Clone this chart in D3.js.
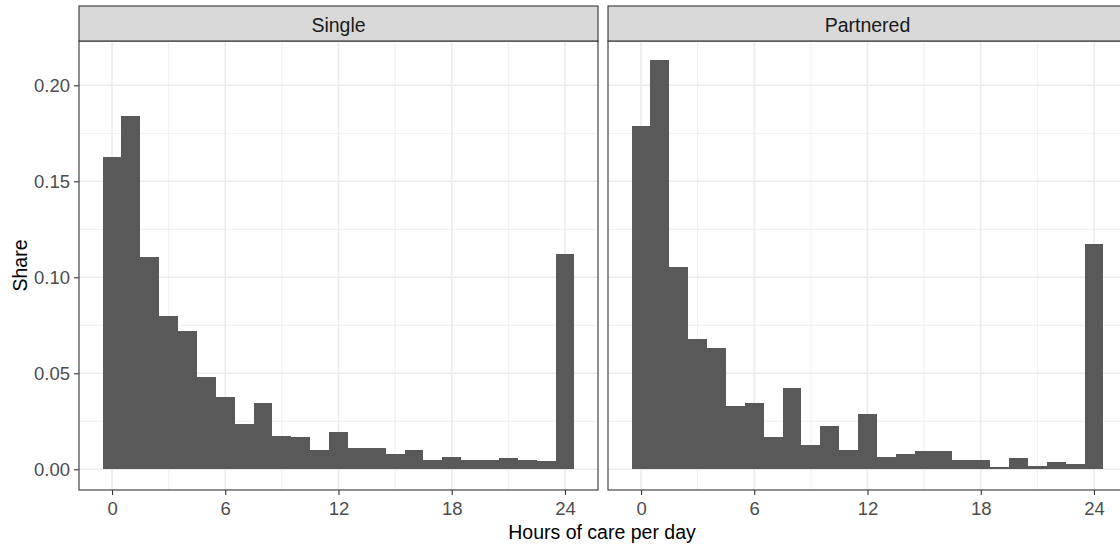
<!DOCTYPE html>
<html>
<head>
<meta charset="utf-8">
<script src="https://cdn.jsdelivr.net/npm/d3@7"></script>
<style>
  body { margin: 0; background: #fff; }
  svg { display: block; font-family: "Liberation Sans", Arial, sans-serif; }
</style>
</head>
<body>
<svg width="1120" height="550"></svg>
<script>
// data: share of people per hour-of-care bin
const hours = [0, 1, 2, 3, 4, 5, 6, 7, 8, 9, 10, 11, 12, 13, 14, 15, 16, 17, 18, 19, 20, 21, 22, 23, 24]
const singleShare = [0.1625, 0.184, 0.1106, 0.0799, 0.0719, 0.0479, 0.0375, 0.0234, 0.0347, 0.0175, 0.0167, 0.0100, 0.0193,
  0.0113, 0.0113, 0.0080, 0.0101, 0.0047, 0.0066, 0.0047, 0.0047, 0.0061, 0.0049, 0.0043, 0.1121]
const partneredShare = [0.179, 0.213, 0.1052, 0.0679, 0.0632, 0.0329, 0.0347, 0.0167, 0.0422, 0.0128, 0.0227, 0.0101, 0.0286,
  0.0066, 0.0081, 0.0094, 0.0094, 0.0047, 0.0047, 0.0014, 0.0061, 0.0019, 0.0040, 0.0029, 0.1173]
const panelNames = ['Single', 'Partnered']
const xTicks = [0, 6, 12, 18, 24]
const xMinor = [3, 9, 15, 21]
const yTicks = [0, 0.05, 0.10, 0.15, 0.20]
const yMinor = [0.025, 0.075, 0.125, 0.175]

const svg = d3.select('svg')

// layout (ggplot theme_bw look)
const panelW = 519
const panelTop = 41
const panelBottom = 490
const stripTop = 6
const panelLefts = [79, 608]

const x = d3.scaleLinear().domain([-1.75, 25.75]).range([0, panelW])
const y = d3.scaleLinear().domain([-0.0108, 0.2231]).range([panelBottom - panelTop, 0])

const seriesByPanel = [singleShare, partneredShare]

panelNames.forEach((name, i) => {
  const g = svg.append('g')
      .attr('transform', `translate(${panelLefts[i]}, ${panelTop})`)

  // minor grid
  g.selectAll('.vminor').data(xMinor).enter().append('line')
      .attr('x1', d => x(d)).attr('x2', d => x(d))
      .attr('y1', 0).attr('y2', y.range()[0])
      .attr('stroke', '#EBEBEB').attr('stroke-width', 0.8)
  g.selectAll('.hminor').data(yMinor).enter().append('line')
      .attr('y1', d => y(d)).attr('y2', d => y(d))
      .attr('x1', 0).attr('x2', panelW)
      .attr('stroke', '#EBEBEB').attr('stroke-width', 0.8)

  // major grid
  g.selectAll('.vmajor').data(xTicks).enter().append('line')
      .attr('x1', d => x(d)).attr('x2', d => x(d))
      .attr('y1', 0).attr('y2', y.range()[0])
      .attr('stroke', '#EBEBEB').attr('stroke-width', 1.5)
  g.selectAll('.hmajor').data(yTicks).enter().append('line')
      .attr('y1', d => y(d)).attr('y2', d => y(d))
      .attr('x1', 0).attr('x2', panelW)
      .attr('stroke', '#EBEBEB').attr('stroke-width', 1.5)

  // histogram bars
  const values = seriesByPanel[i]
  g.selectAll('.bar').data(hours).enter().append('rect')
      .attr('x', h => x(h - 0.5))
      .attr('width', h => x(h + 0.5) - x(h - 0.5))
      .attr('y', (h, j) => y(values[j]))
      .attr('height', (h, j) => y(0) - y(values[j]))
      .attr('fill', '#595959')
      .attr('shape-rendering', 'crispEdges')

  // panel border
  g.append('rect')
      .attr('width', panelW).attr('height', y.range()[0])
      .attr('fill', 'none').attr('stroke', '#333333').attr('stroke-width', 1.1)

  // x axis
  const xAxis = g.append('g')
      .attr('transform', `translate(0, ${y.range()[0]})`)
      .call(d3.axisBottom(x).tickValues(xTicks).tickSize(5).tickPadding(7).tickFormat(d3.format('d')))
  xAxis.select('.domain').remove()
  xAxis.selectAll('line').attr('stroke', '#333333').attr('stroke-width', 1.1)
  xAxis.selectAll('text').attr('fill', '#4D4D4D').style('font-size', '18.5px')

  // y axis only on the first panel
  if (i === 0) {
    const yAxis = g.append('g')
        .call(d3.axisLeft(y).tickValues(yTicks).tickSize(5).tickPadding(4).tickFormat(d3.format('.2f')))
    yAxis.select('.domain').remove()
    yAxis.selectAll('line').attr('stroke', '#333333').attr('stroke-width', 1.1)
    yAxis.selectAll('text').attr('fill', '#4D4D4D').style('font-size', '18.5px')
  }

  // strip
  svg.append('rect')
      .attr('x', panelLefts[i]).attr('y', stripTop)
      .attr('width', panelW).attr('height', panelTop - stripTop)
      .attr('fill', '#D9D9D9').attr('stroke', '#333333').attr('stroke-width', 1.1)
  svg.append('text')
      .attr('x', panelLefts[i] + panelW / 2).attr('y', 31.5)
      .attr('text-anchor', 'middle')
      .attr('fill', '#1A1A1A')
      .style('font-size', '19.5px')
      .text(name)
})

// axis titles
svg.append('text')
    .attr('x', 602).attr('y', 539)
    .attr('text-anchor', 'middle')
    .style('font-size', '19.5px')
    .text('Hours of care per day')

svg.append('text')
    .attr('transform', `translate(27, ${(panelTop + panelBottom) / 2}) rotate(-90)`)
    .attr('text-anchor', 'middle')
    .style('font-size', '19.5px')
    .text('Share')
</script>
</body>
</html>
